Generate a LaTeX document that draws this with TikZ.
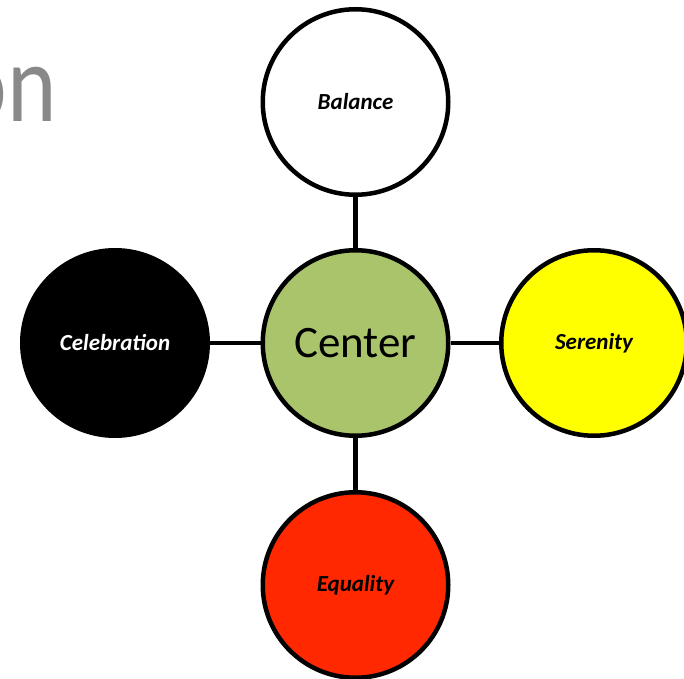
\documentclass[tikz,border=0pt]{standalone}
\usepackage{fontspec}
\usepackage{graphicx}
\setmainfont{Carlito}
\definecolor{cgreen}{RGB}{170,196,108}
\definecolor{cyellow}{RGB}{255,255,0}
\definecolor{cred}{RGB}{255,40,0}
\definecolor{cgray}{RGB}{137,137,137}
\begin{document}
\begin{tikzpicture}[x=1pt,y=1pt,
  ball/.style={circle,draw=black,line width=4.5pt,minimum size=185.5pt,inner sep=0pt,
    font=\fontsize{23}{27}\selectfont\bfseries\itshape},
  link/.style={draw=black,line width=4.5pt}]
\useasboundingbox (0,0) rectangle (684,678);
\clip (0,0) rectangle (684,678);
\node[anchor=base east,text=cgray,font=\fontsize{112}{120}\selectfont,inner sep=0pt] (title) at (57,556) {\scalebox{0.84}[1]{on}};
\node[ball,fill=white] (bal) at (355.5,576) {Balance};
\node[ball,fill=cgreen,font=\fontsize{45}{50}\selectfont] (cen) at (355.5,335) {Center};
\node[ball,fill=black,text=white] (cel) at (115,335) {Celebration};
\node[ball,fill=cyellow] (ser) at (594,335) {Serenity};
\node[ball,fill=cred] (equ) at (355.5,93) {Equality};
\draw[link] (bal) -- (cen);
\draw[link] (cel) -- (cen);
\draw[link] (cen) -- (ser);
\draw[link] (cen) -- (equ);
\end{tikzpicture}
\end{document}
